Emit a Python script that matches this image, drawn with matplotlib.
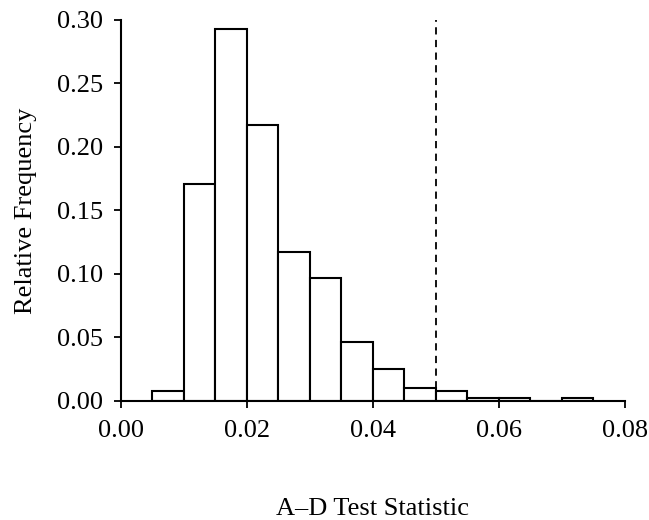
import matplotlib
matplotlib.use("Agg")
import matplotlib.pyplot as plt

# histogram bins (left edges) and relative frequencies
bin_left = [0.005, 0.010, 0.015, 0.020, 0.025, 0.030, 0.035,
            0.040, 0.045, 0.050, 0.055, 0.060, 0.065, 0.070]
rel_freq = [0.008, 0.171, 0.293, 0.217, 0.117, 0.097, 0.046,
            0.025, 0.010, 0.0076, 0.0026, 0.0026, 0.0, 0.0026]
bin_width = 0.005
critical_value = 0.05

x_ticks = [0.00, 0.02, 0.04, 0.06, 0.08]
y_ticks = [0.00, 0.05, 0.10, 0.15, 0.20, 0.25, 0.30]

plt.rcParams["font.family"] = ["Liberation Serif", "DejaVu Serif"]

fig = plt.figure(figsize=(6.49, 5.20), dpi=100)
ax = fig.add_axes([0.186, 0.229, 0.777, 0.733])

ax.bar(bin_left, rel_freq, width=bin_width, align="edge",
       facecolor="white", edgecolor="black", linewidth=1.5, zorder=2)
ax.axvline(critical_value, color="black", linestyle=(0, (4, 3)), linewidth=1.3, zorder=1)

ax.set_xlim(0, 0.08)
ax.set_ylim(0, 0.30)
ax.set_xticks(x_ticks)
ax.set_xticklabels([f"{v:.2f}" for v in x_ticks])
ax.set_yticks(y_ticks)
ax.set_yticklabels([f"{v:.2f}" for v in y_ticks])

for side in ("top", "right"):
    ax.spines[side].set_visible(False)
for side in ("left", "bottom"):
    ax.spines[side].set_linewidth(1.5)

ax.tick_params(axis="both", direction="out", length=5, width=1.3, labelsize=19)
ax.tick_params(axis="x", pad=9)
ax.tick_params(axis="y", pad=8)
ax.set_ylabel("Relative Frequency", fontsize=19, labelpad=14)
ax.set_xlabel("A\u2013D Test Statistic", fontsize=19, labelpad=40)

fig.savefig("out.png", dpi=100)
